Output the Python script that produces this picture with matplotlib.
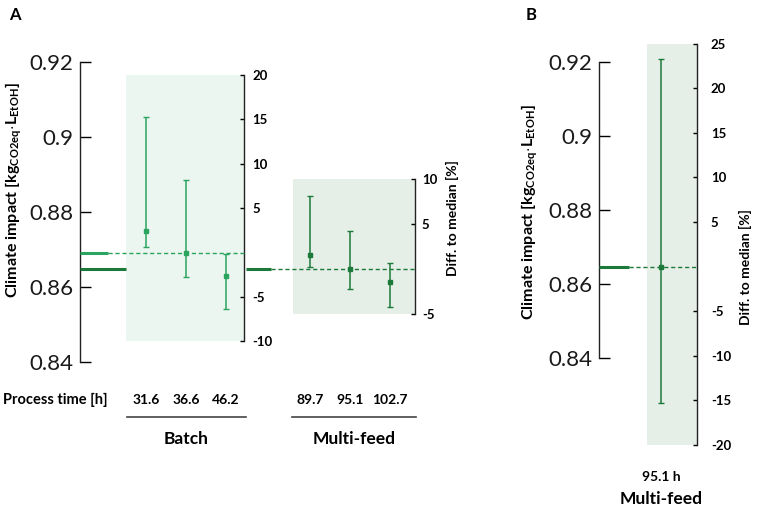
# climate impact of batch vs multi-feed process, diff to median
import matplotlib
matplotlib.use("Agg")
import matplotlib.pyplot as plt
import matplotlib.transforms as mtransforms

plt.rcParams['font.family'] = ['Lato', 'DejaVu Sans']
plt.rcParams['mathtext.fontset'] = 'custom'
plt.rcParams['mathtext.rm'] = 'Lato:bold'
plt.rcParams['mathtext.bf'] = 'Lato:bold'

# data
batch_times = ['31.6', '36.6', '46.2']
batch_diff = [2.4, 0.0, -2.6]
batch_hi = [15.3, 8.2, -0.2]
batch_lo = [0.6, -2.8, -6.4]
batch_median = 0.8692

mf_times = ['89.7', '95.1', '102.7']
mf_diff = [1.6, 0.0, -1.4]
mf_hi = [8.2, 4.3, 0.7]
mf_lo = [0.3, -2.2, -4.2]
mf_median = 0.8647

b_time = '95.1 h'
b_diff = [0.0]
b_hi = [23.3]
b_lo = [-15.3]

impact_ticks = [0.84, 0.86, 0.88, 0.9, 0.92]
impact_labels = ['0.84', '0.86', '0.88', '0.9', '0.92']

c_batch = '#2aa45f'
c_mf = '#1b7a3a'
box_batch = '#eaf6ef'
box_mf = '#e6eee8'

W, H = 757, 508
fig = plt.figure(figsize=(W / 100, H / 100), dpi=100)


def rect(x0, y0, x1, y1):
    return [x0 / W, 1 - y1 / H, (x1 - x0) / W, (y1 - y0) / H]


def fpos(x, y):
    return x / W, 1 - y / H


def impact_axes(x0, x1, y_top, y_bot):
    ax = fig.add_axes(rect(x0, y_top, x1, y_bot))
    ax.set_ylim(0.84, 0.92)
    ax.set_xlim(x0, x1)
    for s in ['top', 'right', 'bottom']:
        ax.spines[s].set_visible(False)
    ax.spines['left'].set_linewidth(1.0)
    ax.spines['left'].set_color('#222222')
    ax.set_xticks([])
    ax.set_yticks(impact_ticks)
    ax.set_yticklabels(impact_labels, fontsize=16, color='#1a1a1a')
    ax.tick_params(axis='y', direction='in', length=8, width=1.0, pad=5)
    ax.patch.set_alpha(0.0)
    return ax


def y_px(ax, v):
    # pixel (top-left origin) of an impact value in given axes
    y0, y1 = ax.get_ylim()
    pos = ax.get_position()
    top = (1 - pos.y1) * H
    bot = (1 - pos.y0) * H
    return bot - (v - y0) / (y1 - y0) * (bot - top)


def diff_axes(x0, x1, y_zero, k, lo, hi, ticks, box, xlim, pad):
    top = y_zero - hi * k
    bot = y_zero - lo * k
    ax = fig.add_axes(rect(x0, top, x1, bot))
    ax.set_ylim(lo, hi)
    ax.set_xlim(*xlim)
    ax.set_facecolor(box)
    for s in ['top', 'left', 'bottom']:
        ax.spines[s].set_visible(False)
    ax.spines['right'].set_color('#222222')
    ax.spines['right'].set_linewidth(1.0)
    ax.set_xticks([])
    ax.yaxis.tick_right()
    ax.set_yticks(ticks)
    ax.set_yticklabels([str(t) for t in ticks], fontsize=9.5, fontweight='bold')
    ax.tick_params(axis='y', direction='in', length=3, width=1.0, pad=pad)
    return ax


def draw_points(ax, diff, hi, lo, color):
    xs = list(range(len(diff)))
    err = [[d - l for d, l in zip(diff, lo)], [h - d for d, h in zip(diff, hi)]]
    ax.errorbar(xs, diff, yerr=err, fmt='s', color=color, ms=3.5, lw=1.1,
                capsize=2.5, capthick=1.0, zorder=4)
    return xs


# ---------- panel A ----------
axA = impact_axes(80, 420, 62, 362)
yb = y_px(axA, batch_median)
ym = y_px(axA, mf_median)

ax_b = diff_axes(126, 244, yb, 8.87, -10, 20, [-10, -5, 5, 10, 15, 20], box_batch, (-0.5, 2.45), 6)
ax_m = diff_axes(293, 415, ym, 9.0, -5, 10, [-5, 5, 10], box_mf, (-0.425, 2.625), 5)

# median lines (solid on impact axis, dashed through the box)
axA.plot([80, 108], [batch_median, batch_median], color=c_batch, lw=2.2, solid_capstyle='butt', zorder=3)
axA.plot([108, 244], [batch_median, batch_median], color=c_batch, lw=1.0, ls=(0, (3, 2)), zorder=5)
axA.plot([80, 126], [mf_median, mf_median], color=c_mf, lw=2.2, solid_capstyle='butt', zorder=3)
axA.plot([246, 271], [mf_median, mf_median], color=c_mf, lw=2.2, solid_capstyle='butt', zorder=3)
axA.plot([271, 415], [mf_median, mf_median], color=c_mf, lw=1.0, ls=(0, (3, 2)), zorder=5)
axA.set_zorder(3)

xb = draw_points(ax_b, batch_diff, batch_hi, batch_lo, c_batch)
xm = draw_points(ax_m, mf_diff, mf_hi, mf_lo, c_mf)

# process time labels
tb = mtransforms.blended_transform_factory(ax_b.transData, fig.transFigure)
for x, t in zip(xb, batch_times):
    ax_b.text(x, 1 - 400 / H, t, transform=tb, ha='center', va='center',
              fontsize=10, fontweight='bold', clip_on=False)
tm = mtransforms.blended_transform_factory(ax_m.transData, fig.transFigure)
for x, t in zip(xm, mf_times):
    ax_m.text(x, 1 - 400 / H, t, transform=tm, ha='center', va='center',
              fontsize=10, fontweight='bold', clip_on=False)

fig.text(*fpos(3, 400), 'Process time [h]', ha='left', va='center', fontsize=10.5, fontweight='bold')
for x0, x1, name in [(127, 246, 'Batch'), (292, 416, 'Multi-feed')]:
    fig.add_artist(plt.Line2D([x0 / W, x1 / W], [1 - 417 / H] * 2, color='#444444', lw=1.2))
    fig.text(*fpos((x0 + x1) / 2, 439), name, ha='center', va='center', fontsize=12.5, fontweight='bold')

ylab = 'Climate impact [kg$_{\\mathregular{CO2eq}}$$\\cdot$L$_{\\mathregular{EtOH}}$]'
fig.text(*fpos(14, 190), ylab, rotation=90, ha='center', va='center', fontsize=11.5, fontweight='bold')
fig.text(*fpos(452, 218), 'Diff. to median [%]', rotation=90, ha='center', va='center',
         fontsize=10, fontweight='bold')
fig.text(*fpos(15, 15), 'A', ha='center', va='center', fontsize=12, fontweight='bold')

# ---------- panel B ----------
axB = impact_axes(599, 700, 62, 358)
yB = y_px(axB, mf_median)
ax_B = diff_axes(647, 697, yB, 8.92, -20, 25, [-20, -15, -10, -5, 5, 10, 15, 20, 25], box_mf, (-0.35, 0.9), 10)
axB.plot([599, 629], [mf_median, mf_median], color=c_mf, lw=2.2, solid_capstyle='butt', zorder=3)
axB.plot([629, 697], [mf_median, mf_median], color=c_mf, lw=1.0, ls=(0, (3, 2)), zorder=5)
axB.set_zorder(3)
xB = draw_points(ax_B, b_diff, b_hi, b_lo, c_mf)

tB = mtransforms.blended_transform_factory(ax_B.transData, fig.transFigure)
ax_B.text(xB[0], 1 - 477 / H, b_time, transform=tB, ha='center', va='center',
          fontsize=10, fontweight='bold', clip_on=False)
ax_B.text(xB[0], 1 - 499 / H, 'Multi-feed', transform=tB, ha='center', va='center',
          fontsize=12.5, fontweight='bold', clip_on=False)

fig.text(*fpos(530, 212), ylab, rotation=90, ha='center', va='center', fontsize=11.5, fontweight='bold')
fig.text(*fpos(745, 267), 'Diff. to median [%]', rotation=90, ha='center', va='center',
         fontsize=10, fontweight='bold')
fig.text(*fpos(531, 15), 'B', ha='center', va='center', fontsize=12, fontweight='bold')

fig.savefig('out.png', dpi=100)
